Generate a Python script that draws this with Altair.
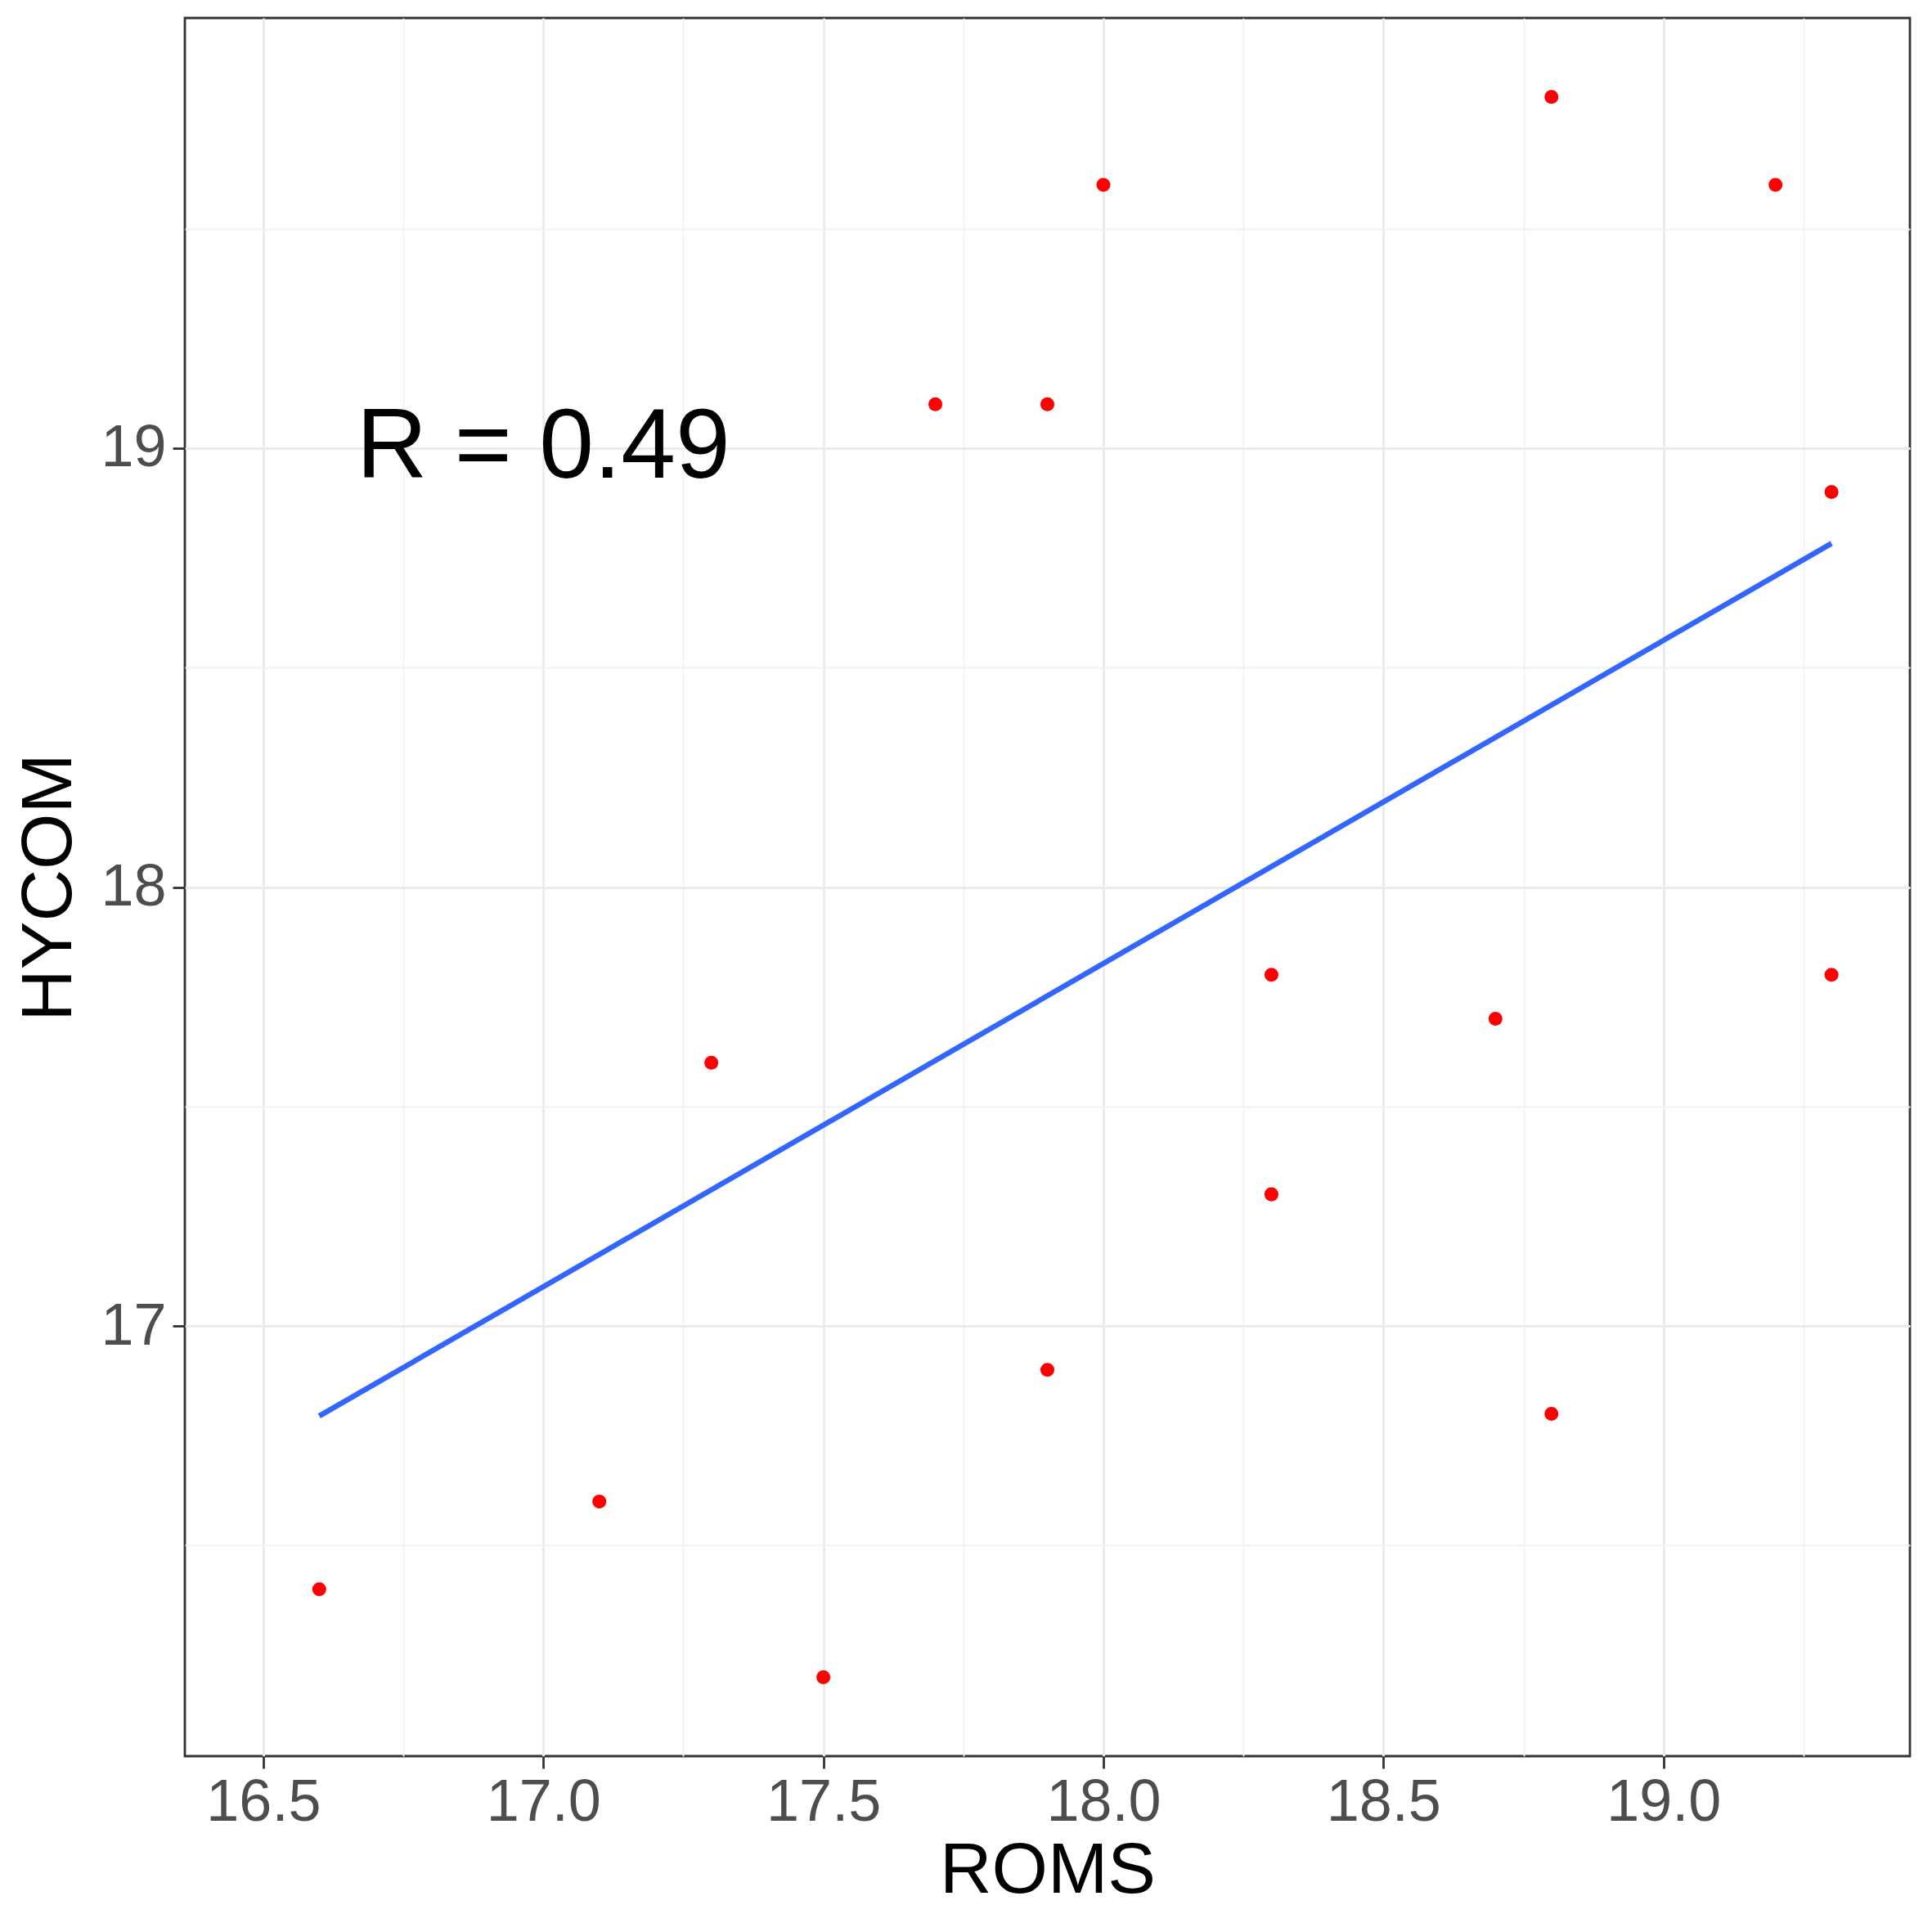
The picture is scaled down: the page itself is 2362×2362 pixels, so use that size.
import altair as alt
import pandas as pd

# Data
roms = [16.6, 17.1, 17.3, 17.5, 17.7, 17.9, 17.9, 18.0, 18.3, 18.3, 18.7, 18.8, 18.8, 19.2, 19.3, 19.3]
hycom = [16.4, 16.6, 17.6, 16.2, 19.1, 19.1, 16.9, 19.6, 17.8, 17.3, 17.7, 19.8, 16.8, 19.6, 18.9, 17.8]

x_ticks = [16.5, 16.75, 17.0, 17.25, 17.5, 17.75, 18.0, 18.25, 18.5, 18.75, 19.0, 19.25]
y_ticks = [16.5, 17.0, 17.5, 18.0, 18.5, 19.0, 19.5]

label_x = [17.0]
label_y = [19.0]
label_text = ["R = 0.49"]

x_domain = [16.36, 19.44]
y_domain = [16.02, 19.98]

df = pd.DataFrame({"ROMS": roms, "HYCOM": hycom})
lab = pd.DataFrame({"x": label_x, "y": label_y, "t": label_text})

FONT = "Liberation Sans"

x_axis = alt.Axis(
    values=x_ticks,
    labelExpr="datum.value % 0.5 == 0 ? format(datum.value, '.1f') : ''",
    labelOverlap=False,
    labelFlush=False,
    labelFontSize=72,
    labelColor="#4D4D4D",
    labelFont=FONT,
    labelPadding=6,
    titleFontSize=88,
    titleFont=FONT,
    titleFontWeight="normal",
    titleColor="#000000",
    titlePadding=4,
    domain=False,
    tickSize=15,
    tickWidth=2.8,
    tickColor="#333333",
    tickOpacity={"condition": {"test": "datum.value % 0.5 == 0", "value": 1}, "value": 0},
    gridColor={"condition": {"test": "datum.value % 0.5 == 0", "value": "#EBEBEB"}, "value": "#F2F2F2"},
    gridWidth={"condition": {"test": "datum.value % 0.5 == 0", "value": 3}, "value": 1.8},
)

y_axis = alt.Axis(
    values=y_ticks,
    labelExpr="datum.value % 1 == 0 ? format(datum.value, 'd') : ''",
    labelOverlap=False,
    labelFlush=False,
    labelFontSize=72,
    labelColor="#4D4D4D",
    labelFont=FONT,
    labelPadding=8,
    titleFontSize=88,
    titleFont=FONT,
    titleFontWeight="normal",
    titleColor="#000000",
    titlePadding=18,
    domain=False,
    tickSize=15,
    tickWidth=2.8,
    tickColor="#333333",
    tickOpacity={"condition": {"test": "datum.value % 1 == 0", "value": 1}, "value": 0},
    gridColor={"condition": {"test": "datum.value % 1 == 0", "value": "#EBEBEB"}, "value": "#F2F2F2"},
    gridWidth={"condition": {"test": "datum.value % 1 == 0", "value": 3}, "value": 1.8},
)

xs = alt.Scale(domain=x_domain, nice=False, zero=False)
ys = alt.Scale(domain=y_domain, nice=False, zero=False)

points = alt.Chart(df).mark_circle(color="#FF0000", opacity=1, size=290).encode(
    x=alt.X("ROMS:Q", scale=xs, axis=x_axis, title="ROMS"),
    y=alt.Y("HYCOM:Q", scale=ys, axis=y_axis, title="HYCOM"),
)

line = alt.Chart(df).transform_regression("ROMS", "HYCOM").mark_line(
    color="#3366FF", strokeWidth=6.5
).encode(
    x=alt.X("ROMS:Q", scale=xs),
    y=alt.Y("HYCOM:Q", scale=ys),
)

text = alt.Chart(lab).mark_text(
    fontSize=120, font=FONT, color="#000000", align="center", baseline="middle"
).encode(
    x=alt.X("x:Q", scale=xs),
    y=alt.Y("y:Q", scale=ys),
    text="t:N",
)

chart = alt.layer(points, line, text).properties(
    width=2109,
    height=2125,
    autosize=alt.AutoSizeParams(type="none"),
    padding={"left": 226, "top": 22, "right": 27, "bottom": 215},
    background="#FFFFFF",
).configure_view(
    stroke="#333333", strokeWidth=2.8
)

chart.save("out.html", embed_options={"renderer": "svg", "actions": False})
